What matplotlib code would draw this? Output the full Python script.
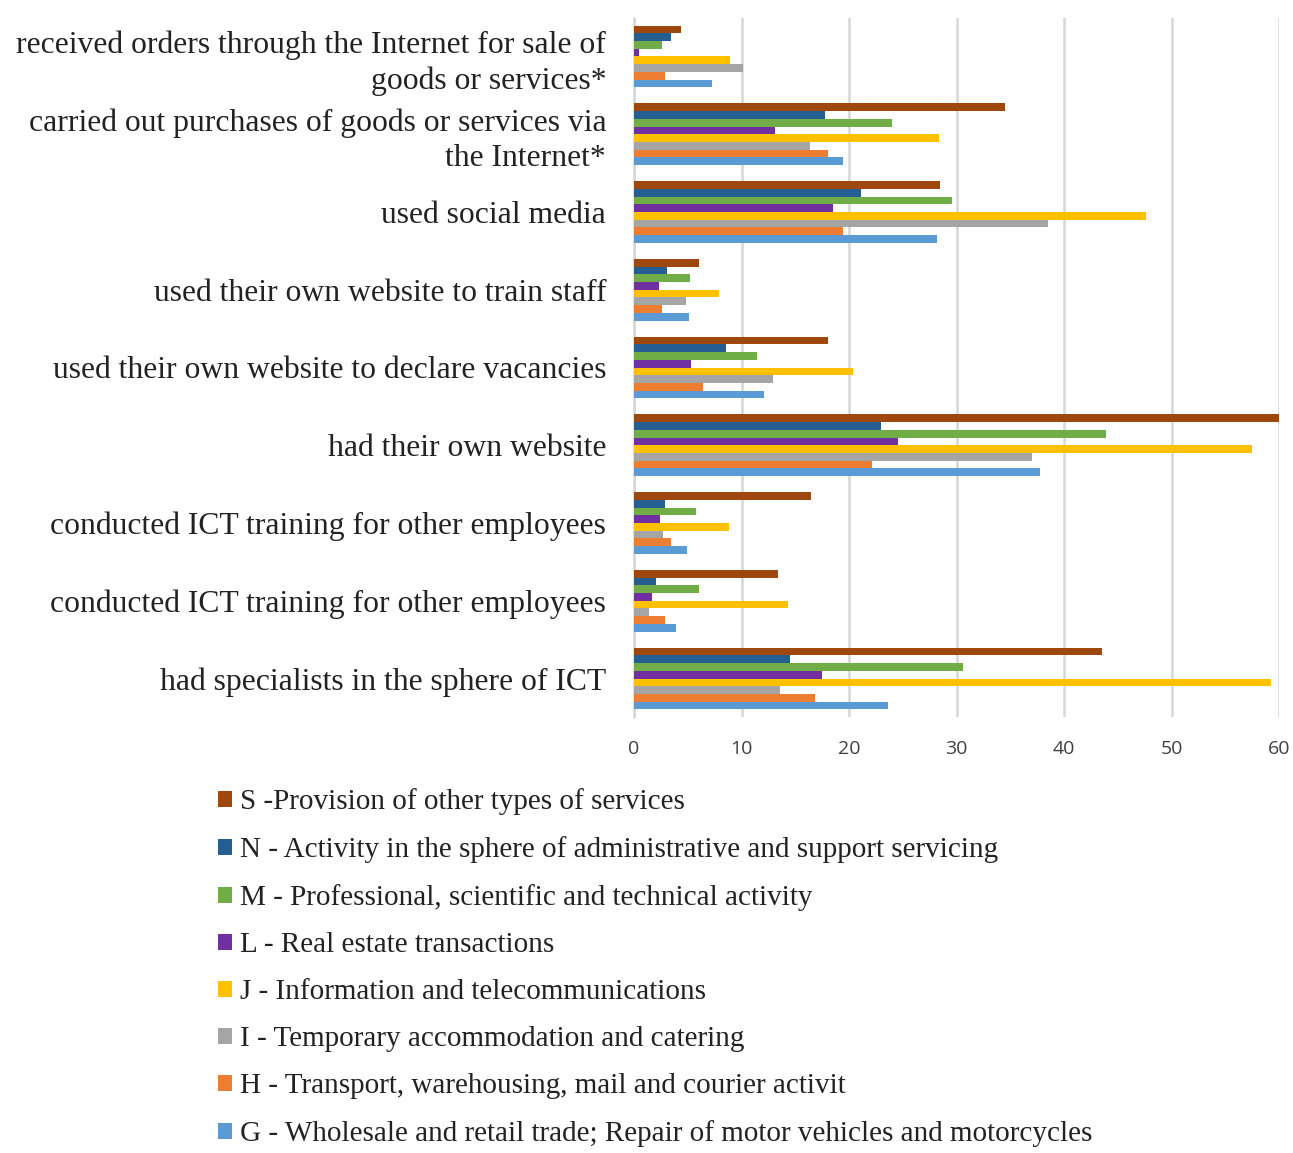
import matplotlib
matplotlib.use("Agg")
import matplotlib.pyplot as plt
import numpy as np
from matplotlib.patches import Patch

categories = [
    "received orders through the Internet for sale of\ngoods or services*",
    "carried out purchases of goods or services via\nthe Internet*",
    "used social media",
    "used their own website to train staff",
    "used their own website to declare vacancies",
    "had their own website",
    "conducted ICT training for other employees",
    "conducted ICT training for other employees",
    "had specialists in the sphere of ICT",
]

series_names = [
    "S -Provision of other types of services",
    "N - Activity in the sphere of administrative and support servicing",
    "M - Professional, scientific and technical activity",
    "L - Real estate transactions",
    "J - Information and telecommunications",
    "I - Temporary accommodation and catering",
    "H - Transport, warehousing, mail and courier activit",
    "G - Wholesale and retail trade; Repair of motor vehicles and motorcycles",
]

S = [4.4, 34.5, 28.5, 6.0, 18.0, 60.2, 16.5, 13.4, 43.5]
N = [3.4, 17.8, 21.1, 3.1, 8.6, 23.0, 2.9, 2.0, 14.5]
M = [2.6, 24.0, 29.6, 5.2, 11.4, 43.9, 5.8, 6.0, 30.6]
L = [0.5, 13.1, 18.5, 2.3, 5.3, 24.6, 2.4, 1.7, 17.5]
J = [8.9, 28.4, 47.6, 7.9, 20.4, 57.5, 8.8, 14.3, 59.3]
I = [10.1, 16.4, 38.5, 4.8, 12.9, 37.0, 2.7, 1.4, 13.6]
H = [2.9, 18.0, 19.4, 2.6, 6.4, 22.1, 3.4, 2.9, 16.8]
G = [7.3, 19.4, 28.2, 5.1, 12.1, 37.8, 4.9, 3.9, 23.6]

x_ticks = [0, 10, 20, 30, 40, 50, 60]

colors = ["#9E480E", "#255E91", "#70AD47", "#7030A0",
          "#FFC000", "#A5A5A5", "#ED7D31", "#5B9BD5"]

data = [S, N, M, L, J, I, H, G]

fig = plt.figure(figsize=(12.93, 11.53), dpi=100)
top_px, bot_px = 17.6, 717.4
ax = fig.add_axes([634/1293, 1-bot_px/1153, (1279-634)/1293, (bot_px-top_px)/1153])

ncat = len(categories)
nser = len(data)
bh = 0.099
pos = np.arange(ncat)
for k, (vals, col) in enumerate(zip(data, colors)):
    offs = (k - (nser - 1) / 2) * bh
    ax.barh(pos + offs, vals, height=bh, color=col, zorder=3)

ax.set_ylim(ncat - 0.5, -0.5)
ax.set_xlim(0, 60)
ax.set_xticks(x_ticks)
ax.set_xticklabels([str(t) for t in x_ticks], family="Open Sans", fontsize=14, color="#404040")
ax.tick_params(axis="x", length=0, pad=16)
ax.set_yticks(pos)
ax.set_yticklabels(categories, family="Liberation Serif", fontsize=22.8, color="#222222",
                   linespacing=1.28)
ax.tick_params(axis="y", length=0, pad=20)
for lab in ax.get_yticklabels():
    lab.set_horizontalalignment("right")
ax.grid(axis="x", color="#D6D6D6", linewidth=1.8, zorder=0)
for s in ["top", "right", "bottom"]:
    ax.spines[s].set_visible(False)
ax.spines["left"].set_color("#D6D6D6")
ax.spines["left"].set_linewidth(1.8)

handles = [Patch(facecolor=c, edgecolor="none") for c in colors]
fig.legend(handles, series_names, loc="upper left", bbox_to_anchor=(192/1293, 1-762/1153),
           frameon=False, prop={"family": "Liberation Serif", "size": 21},
           handlelength=0.48, handleheight=0.48, handletextpad=0.27, labelspacing=0.72,
           labelcolor="#222222")

fig.savefig("out.png", dpi=100, facecolor="white")
